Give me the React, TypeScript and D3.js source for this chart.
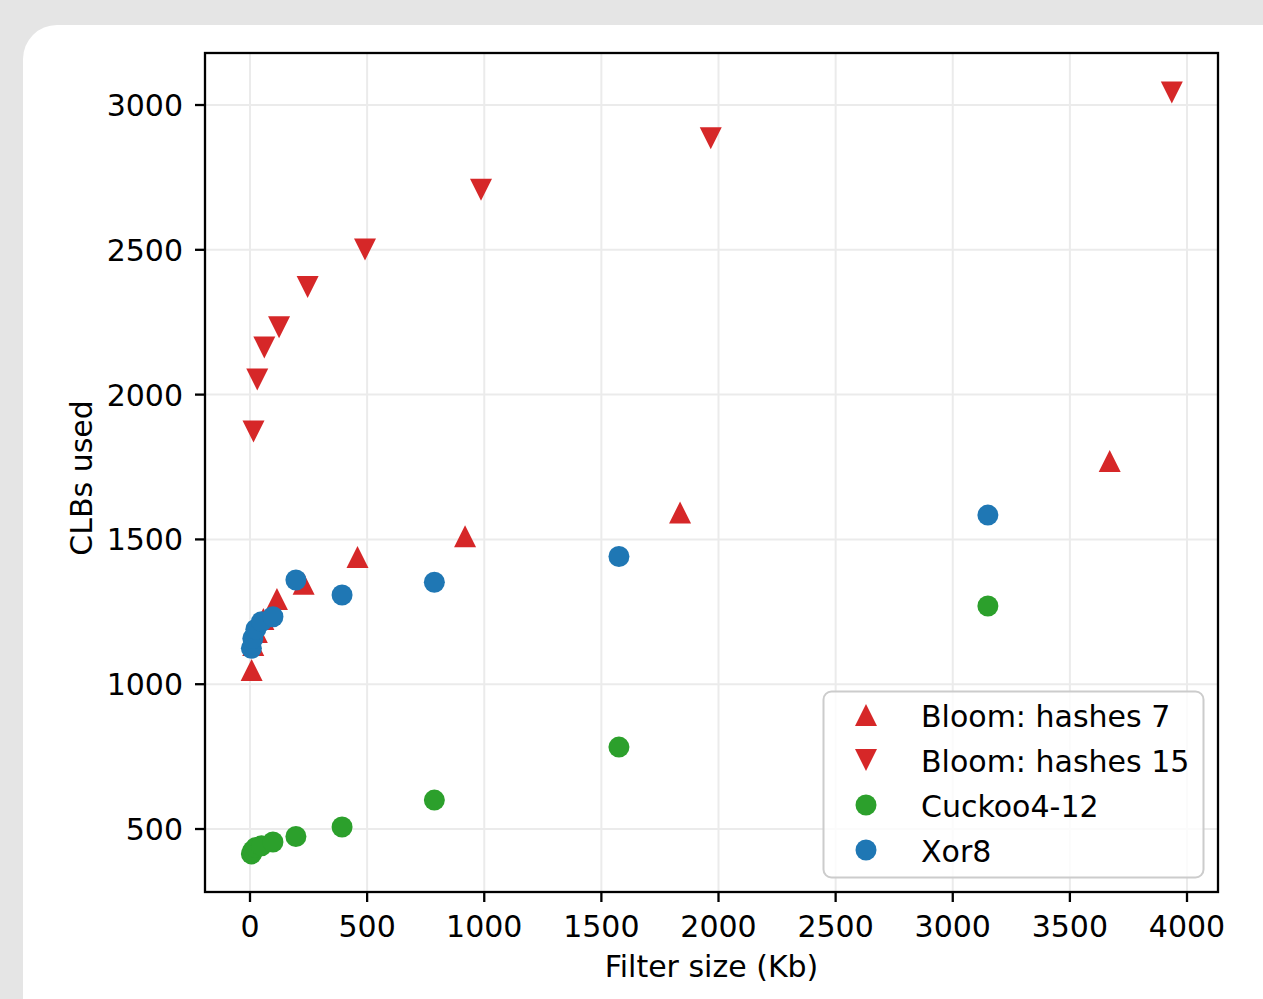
import React from 'react';
import * as d3 from 'd3';

// filter sizes (Kb) per filter family
const bloom7Size = [7, 14, 29, 57, 115, 229, 459, 918, 1836, 3670];
const bloom7Clb = [1049, 1135, 1180, 1225, 1294, 1347, 1439, 1511, 1593, 1771];

const bloom15Size = [15, 31, 61, 124, 246, 491, 986, 1967, 3935];
const bloom15Clb = [1873, 2052, 2163, 2233, 2372, 2501, 2707, 2885, 3043];

const xorSize = [6, 12, 25, 49, 98, 196, 393, 787, 1575, 3150];
const cuckooClb = [414, 425, 436, 442, 455, 474, 507, 600, 783, 1270];
const xorClb = [1124, 1158, 1190, 1216, 1233, 1360, 1308, 1352, 1441, 1584];

const xTicks = [0, 500, 1000, 1500, 2000, 2500, 3000, 3500, 4000];
const yTicks = [500, 1000, 1500, 2000, 2500, 3000];

const legendLabels = ['Bloom: hashes 7', 'Bloom: hashes 15', 'Cuckoo4-12', 'Xor8'];

const RED = '#d62728';
const GREEN = '#2ca02c';
const BLUE = '#1f77b4';
const FONT = 'DejaVu Sans, sans-serif';

const left = 205, right = 1218, top = 53, bottom = 892;

const triUp = (s: number) => `M0,${-s}L${-s},${s}L${s},${s}Z`;
const triDown = (s: number) => `M0,${s}L${-s},${-s}L${s},${-s}Z`;

export default function App() {
  const x = d3.scaleLinear().domain([-192.1, 4132.3]).range([left, right]);
  const y = d3.scaleLinear().domain([282.5, 3179.6]).range([bottom, top]);

  const ms = 11;
  const r = 10.5;
  const fs = 30;

  const legendRows = [
    (cy: number) => <path d={triUp(ms)} transform={`translate(866,${cy})`} fill={RED} />,
    (cy: number) => <path d={triDown(ms)} transform={`translate(866,${cy})`} fill={RED} />,
    (cy: number) => <circle cx={866} cy={cy} r={r} fill={GREEN} />,
    (cy: number) => <circle cx={866} cy={cy} r={r} fill={BLUE} />,
  ];

  return (
    <div style={{ position: 'fixed', left: 0, top: 0, width: 1263, height: 999 }}>
      <svg width={1263} height={999} style={{ display: 'block' }}>
        <rect width={1263} height={999} fill="#e5e5e5" />
        <rect x={23} y={25} width={1290} height={1100} rx={34} fill="#ffffff" />

        {/* grid */}
        <g stroke="#ebebeb" strokeWidth={2}>
          {xTicks.map(t => <line key={'gx' + t} x1={x(t)} x2={x(t)} y1={top} y2={bottom} />)}
          {yTicks.map(t => <line key={'gy' + t} x1={left} x2={right} y1={y(t)} y2={y(t)} />)}
        </g>

        {/* data */}
        <g fill={RED}>
          {bloom7Size.map((s, i) => (
            <path key={'b7' + i} d={triUp(ms)} transform={`translate(${x(s)},${y(bloom7Clb[i])})`} />
          ))}
          {bloom15Size.map((s, i) => (
            <path key={'b15' + i} d={triDown(ms)} transform={`translate(${x(s)},${y(bloom15Clb[i])})`} />
          ))}
        </g>
        <g fill={GREEN}>
          {xorSize.map((s, i) => <circle key={'c' + i} cx={x(s)} cy={y(cuckooClb[i])} r={r} />)}
        </g>
        <g fill={BLUE}>
          {xorSize.map((s, i) => <circle key={'x' + i} cx={x(s)} cy={y(xorClb[i])} r={r} />)}
        </g>

        {/* frame */}
        <rect x={left} y={top} width={right - left} height={bottom - top} fill="none" stroke="#000" strokeWidth={2.3} />

        {/* axes */}
        <g fontFamily={FONT} fontSize={fs} fill="#000">
          {xTicks.map(t => (
            <g key={'xt' + t}>
              <line x1={x(t)} x2={x(t)} y1={bottom} y2={bottom + 10} stroke="#000" strokeWidth={2.3} />
              <text x={x(t)} y={937} textAnchor="middle">{t}</text>
            </g>
          ))}
          {yTicks.map(t => (
            <g key={'yt' + t}>
              <line x1={left - 10} x2={left} y1={y(t)} y2={y(t)} stroke="#000" strokeWidth={2.3} />
              <text x={183} y={y(t) + 11} textAnchor="end">{t}</text>
            </g>
          ))}
          <text x={(left + right) / 2} y={977} textAnchor="middle">Filter size (Kb)</text>
          <text transform={`translate(91.5,478) rotate(-90)`} textAnchor="middle">CLBs used</text>
        </g>

        {/* legend */}
        <rect x={823.5} y={691.5} width={380} height={186} rx={8} fill="#fff" fillOpacity={0.8} stroke="#cccccc" strokeWidth={2} />
        {legendLabels.map((lab, i) => {
          const cy = 715 + i * 45;
          return (
            <g key={lab}>
              {legendRows[i](cy)}
              <text x={921} y={cy + 11.5} fontFamily={FONT} fontSize={fs} fill="#000">{lab}</text>
            </g>
          );
        })}
      </svg>
    </div>
  );
}
